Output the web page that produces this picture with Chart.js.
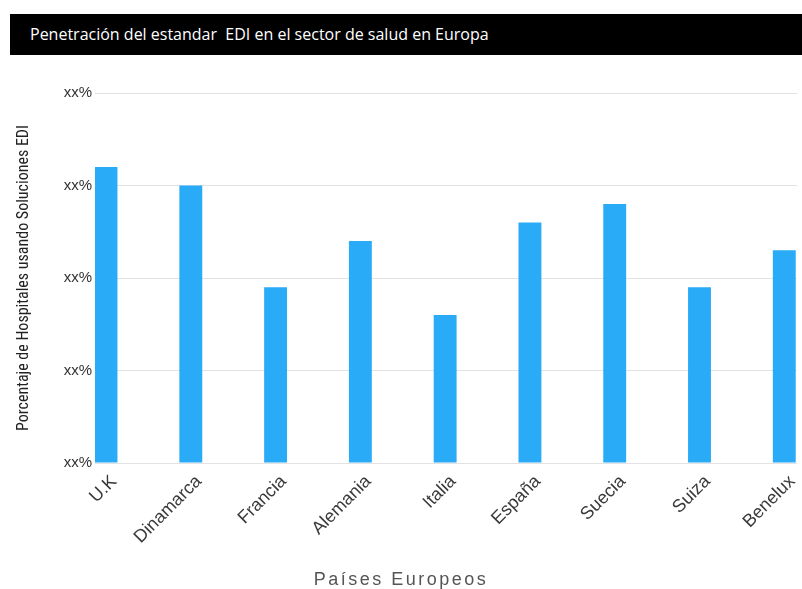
<!DOCTYPE html>
<html>
<head>
<meta charset="utf-8">
<script src="https://cdn.jsdelivr.net/npm/chart.js@4"></script>
<style>
  html, body { margin: 0; padding: 0; background: #fff; }
  #wrap { position: relative; width: 802px; height: 589px; }
  #titlebar {
    position: absolute; left: 10px; top: 14px; width: 792px; height: 41px;
    background: #000; color: #fff;
    font-family: "Open Sans", "Liberation Sans", sans-serif; font-size: 16px;
    line-height: 41px; padding-left: 20px; box-sizing: border-box;
    white-space: pre;
  }
  #xtitle {
    position: absolute; left: 0; width: 802px; top: 568px; text-align: center;
    font-family: "Liberation Sans", Arial, sans-serif; font-size: 18px;
    letter-spacing: 2.5px; color: #555; line-height: 22px;
  }
  canvas { position: absolute; left: 0; top: 0; }
</style>
</head>
<body>
<div id="wrap">
  <canvas id="c" width="802" height="589"></canvas>
  <div id="titlebar">Penetración del estandar  EDI en el sector de salud en Europa</div>
  <div id="xtitle">Países Europeos</div>
</div>
<script>
// chart data
const countries = ['U.K', 'Dinamarca', 'Francia', 'Alemania', 'Italia', 'España', 'Suecia', 'Suiza', 'Benelux'];
const penetration = [3.2, 3.0, 1.9, 2.4, 1.6, 2.6, 2.8, 1.9, 2.3];
const yTickLabels = ['xx%', 'xx%', 'xx%', 'xx%', 'xx%'];

const barColor = '#2aabf7';

new Chart(document.getElementById('c'), {
  type: 'bar',
  data: {
    datasets: [{
      data: penetration.map((v, i) => ({ x: i, y: v })),
      backgroundColor: barColor,
      borderWidth: 0,
      barPercentage: 0.3,
      categoryPercentage: 0.9
    }]
  },
  options: {
    responsive: false,
    animation: false,
    layout: { padding: { left: 10, right: 5, top: 93, bottom: 0 } },
    plugins: { legend: { display: false }, tooltip: { enabled: false } },
    scales: {
      x: {
        type: 'linear',
        offset: false,
        min: -0.13,
        max: 8.15,
        afterBuildTicks: axis => { axis.ticks = countries.map((_, i) => ({ value: i })); },
        afterFit: axis => { axis.height = 126; },
        grid: { display: false },
        border: { display: false },
        ticks: {
          autoSkip: false,
          minRotation: 45,
          maxRotation: 45,
          padding: 0,
          labelOffset: 8,
          color: '#3a3a3a',
          font: { family: 'Liberation Sans', size: 18 },
          callback: v => countries[v]
        }
      },
      y: {
        min: 0,
        max: 4,
        afterFit: axis => { axis.width = 85; },
        grid: { color: '#e2e2e2', drawTicks: false },
        border: { display: false },
        ticks: {
          stepSize: 1,
          padding: 3,
          color: '#333',
          font: { family: 'Liberation Sans', size: 15 },
          callback: (v, i) => yTickLabels[i]
        },
        title: {
          display: true,
          text: 'Porcentaje de Hospitales usando Soluciones EDI',
          color: '#222',
          padding: { top: 4, bottom: 0 },
          font: { family: "'Liberation Sans Narrow', 'Roboto Condensed', 'Liberation Sans'", size: 16 }
        }
      }
    }
  }
});
</script>
</body>
</html>
